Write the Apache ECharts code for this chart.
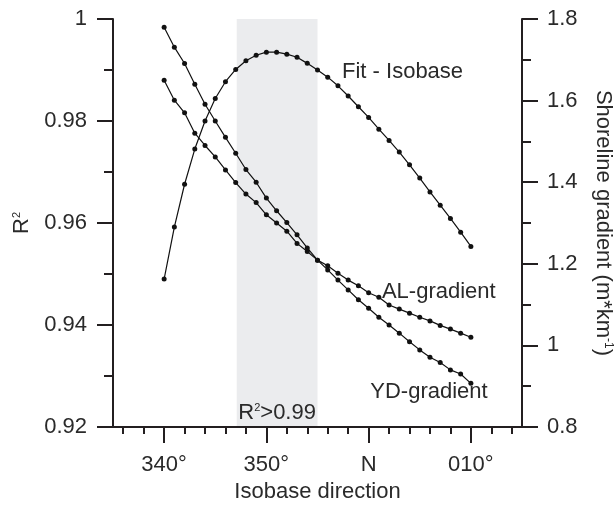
<!DOCTYPE html>
<html><head><meta charset="utf-8">
<script src="https://cdn.jsdelivr.net/npm/echarts@6/dist/echarts.min.js"></script>
<style>html,body{margin:0;padding:0;background:#fff}#c{width:616px;height:506px}</style>
</head><body><div id="c"></div>
<script>
// Isobase direction, degrees relative to north (-20 = 340°, 10 = 010°)
const isobase = [-20,-19,-18,-17,-16,-15,-14,-13,-12,-11,-10,-9,-8,-7,-6,-5,-4,-3,-2,-1,0,1,2,3,4,5,6,7,8,9,10];
// R² of the isobase fit (left axis)
const fitIsobase = [0.9490,0.9592,0.9676,0.9745,0.9800,0.9844,0.9877,0.9901,0.9918,0.9929,0.9935,0.9935,0.9931,0.9925,0.9913,0.9900,0.9886,0.9869,0.9849,0.9828,0.9807,0.9784,0.9762,0.9739,0.9714,0.9688,0.9661,0.9635,0.9609,0.9582,0.9554];
// Shoreline gradients (right axis, m*km^-1)
const alGradient = [1.650,1.601,1.570,1.520,1.490,1.462,1.430,1.399,1.371,1.350,1.320,1.300,1.280,1.250,1.230,1.209,1.195,1.177,1.160,1.146,1.129,1.118,1.099,1.089,1.079,1.069,1.060,1.049,1.040,1.030,1.020];
const ydGradient = [1.780,1.731,1.691,1.640,1.591,1.550,1.510,1.471,1.431,1.400,1.361,1.330,1.301,1.271,1.239,1.209,1.185,1.160,1.136,1.112,1.091,1.069,1.050,1.030,1.009,0.989,0.971,0.958,0.940,0.930,0.907];
// x-axis ticks
const xMajorTicks = [-20,-10,0,10];
const xTickLabels = ['340°','350°','N','010°'];
const xMinorTicks = [-24,-22,-18,-16,-14,-12,-8,-6,-4,-2,2,4,6,8,12,14];
// R² > 0.99 band (isobase range)
const bandRange = [-12.9, -5];

const FONT = 'Liberation Sans, Arial, Helvetica, sans-serif';
const INK = '#231f20';
const TXT = '#2a2a2a';
const pair = arr => isobase.map((x, i) => [x, arr[i]]);

const chart = echarts.init(document.getElementById('c'), null, {renderer: 'canvas'});
const lineSeries = (name, data, yIdx, extra) => Object.assign({
  name, type: 'line', data: pair(data), xAxisIndex: 0, yAxisIndex: yIdx,
  symbol: 'circle', symbolSize: 5, showAllSymbol: true, smooth: false,
  itemStyle: {color: '#111'}, lineStyle: {color: '#111', width: 1.2},
  emphasis: {disabled: true}, z: 2
}, extra || {});
const txtLabel = (text) => ({
  show: true, position: 'right', distance: 0, formatter: text,
  fontFamily: FONT, fontSize: 22, color: TXT
});

chart.setOption({
  animation: false,
  backgroundColor: '#fff',
  grid: {left: 113, right: 94, top: 19, bottom: 79, outerBoundsMode: 'none', containLabel: false},
  xAxis: [{
    type: 'value', min: -25, max: 15, position: 'bottom', z: 5,
    axisLine: {show: true, onZero: false, lineStyle: {color: INK, width: 2}},
    axisTick: {show: true, customValues: xMajorTicks, length: 16, lineStyle: {color: INK, width: 2}},
    axisLabel: {show: true, customValues: xMajorTicks, margin: 27,
      formatter: v => xTickLabels[xMajorTicks.indexOf(v)],
      fontFamily: FONT, fontSize: 22, color: TXT},
    splitLine: {show: false},
    name: 'Isobase direction', nameLocation: 'middle', nameGap: 53,
    nameTextStyle: {fontFamily: FONT, fontSize: 22, color: TXT}
  }, {
    type: 'value', min: -25, max: 15, position: 'bottom', z: 5,
    axisLine: {show: false, onZero: false},
    axisTick: {show: true, customValues: xMinorTicks, length: 7, lineStyle: {color: INK, width: 2}},
    axisLabel: {show: false}, splitLine: {show: false}
  }],
  yAxis: [{
    type: 'value', min: 0.92, max: 1, interval: 0.02, position: 'left', z: 5,
    axisLine: {show: true, onZero: false, lineStyle: {color: INK, width: 2}},
    axisTick: {show: true, length: 16, lineStyle: {color: INK, width: 2}},
    minorTick: {show: true, splitNumber: 2, length: 9, lineStyle: {color: INK, width: 2}},
    axisLabel: {margin: 26, fontFamily: FONT, fontSize: 22, color: TXT},
    splitLine: {show: false},
    name: '{r|R}{s|2}', nameLocation: 'middle', nameGap: 80, nameRotate: 90,
    nameTextStyle: {fontFamily: FONT, fontSize: 22, color: TXT,
      rich: {r: {fontFamily: FONT, fontSize: 22, color: TXT},
             s: {fontFamily: FONT, fontSize: 11, color: TXT, verticalAlign: 'top', padding: [0, 0, 10, 0]}}}
  }, {
    type: 'value', min: 0.8, max: 1.8, interval: 0.2, position: 'right', z: 5,
    axisLine: {show: true, onZero: false, lineStyle: {color: INK, width: 2}},
    axisTick: {show: true, length: 16, lineStyle: {color: INK, width: 2}},
    minorTick: {show: true, splitNumber: 2, length: 9, lineStyle: {color: INK, width: 2}},
    axisLabel: {margin: 25, fontFamily: FONT, fontSize: 22, color: TXT},
    splitLine: {show: false},
    name: '{a|Shoreline gradient (m*km}{s|-1}{a|)}', nameLocation: 'middle', nameGap: 70, nameRotate: -90,
    nameTextStyle: {fontFamily: FONT, fontSize: 22, color: TXT,
      rich: {a: {fontFamily: FONT, fontSize: 22, color: TXT},
             s: {fontFamily: FONT, fontSize: 12, color: TXT, verticalAlign: 'top', padding: [0, 0, 10, 0]}}}
  }],
  series: [
    lineSeries('Fit - Isobase', fitIsobase, 0, {
      markArea: {
        silent: true,
        itemStyle: {color: '#ebecee'},
        label: {show: true, position: 'insideBottom', distance: 3,
          formatter: '{r|R}{s|2}{r|>0.99}',
          rich: {r: {fontFamily: FONT, fontSize: 22, color: TXT},
                 s: {fontFamily: FONT, fontSize: 11, color: TXT, verticalAlign: 'top', padding: [0, 0, 10, 0]}}},
        data: [[{xAxis: bandRange[0], yAxis: 0.92}, {xAxis: bandRange[1], yAxis: 1.0006}]]
      },
      markPoint: {symbol: 'circle', symbolSize: 0, silent: true,
        data: [{coord: [-2.6, 0.9896], label: txtLabel('Fit - Isobase')}]}
    }),
    lineSeries('AL-gradient', alGradient, 1, {
      markPoint: {symbol: 'circle', symbolSize: 0, silent: true,
        data: [{coord: [1.3, 1.1316], label: txtLabel('AL-gradient')}]}
    }),
    lineSeries('YD-gradient', ydGradient, 1, {
      markPoint: {symbol: 'circle', symbolSize: 0, silent: true,
        data: [{coord: [0.16, 0.8865], label: txtLabel('YD-gradient')}]}
    })
  ]
});
</script>
</body></html>
